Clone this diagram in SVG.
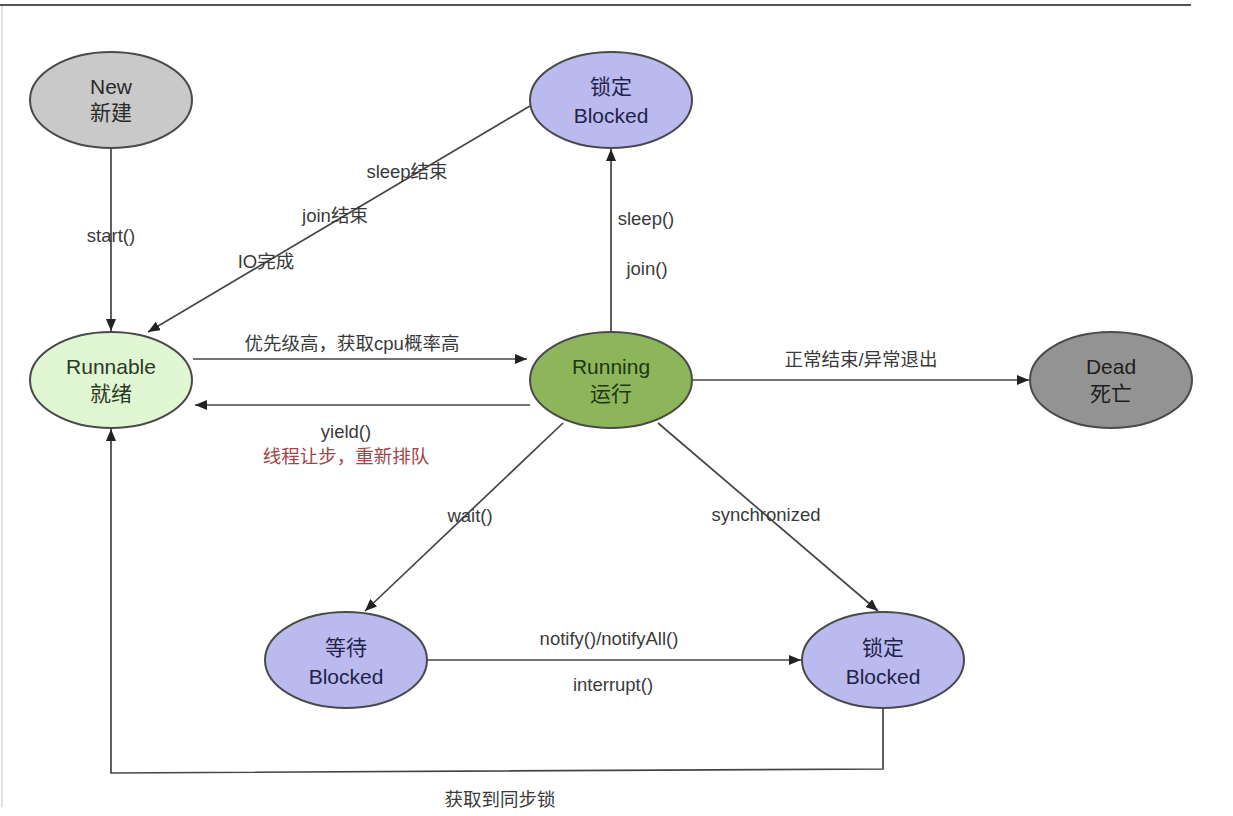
<svg xmlns="http://www.w3.org/2000/svg" width="1233" height="816" viewBox="0 0 1233 816">
<defs>
<marker id="arr" viewBox="0 0 12 10" refX="12" refY="5" markerWidth="12" markerHeight="10" markerUnits="userSpaceOnUse" orient="auto">
<path d="M0,0 L12,5 L0,10 z" fill="#222"/>
</marker>
</defs>
<style>
.node{stroke:#4a4a4a;stroke-width:2}
.nt{font-family:"Liberation Sans","Noto Sans CJK SC",sans-serif;font-size:21px;text-anchor:middle}
.lbl{font-family:"Liberation Sans","Noto Sans CJK SC",sans-serif;font-size:18.5px;text-anchor:middle;fill:#3a3a3a}
.red{fill:#a0454a}
.edge{fill:none;stroke:#454545;stroke-width:1.7}
.arrow{marker-end:url(#arr)}
</style>
<rect x="0" y="0" width="1233" height="816" fill="#ffffff"/>
<line x1="0" y1="5" x2="1191" y2="5" stroke="#555" stroke-width="2"/>
<line x1="2" y1="6" x2="2" y2="807" stroke="#d8d8d8" stroke-width="1.5"/>

<g id="connectors">
<line class="edge arrow" x1="111" y1="148" x2="111" y2="331"/>
<line class="edge arrow" x1="530" y1="106" x2="148" y2="332"/>
<line class="edge arrow" x1="193" y1="359" x2="527" y2="359"/>
<line class="edge arrow" x1="530" y1="405" x2="195" y2="405"/>
<line class="edge arrow" x1="611" y1="332" x2="611" y2="149"/>
<line class="edge arrow" x1="692" y1="380" x2="1029" y2="380"/>
<line class="edge arrow" x1="563" y1="423" x2="365" y2="611"/>
<line class="edge arrow" x1="658" y1="423" x2="878" y2="611"/>
<line class="edge arrow" x1="428" y1="660" x2="801" y2="660"/>
<path class="edge arrow" d="M883,708 L883,769 L111,773 L111,429"/>
</g>

<g id="node-new">
<ellipse class="node" cx="111" cy="100" rx="81" ry="48" fill="#c9c9c9"/>
<text class="nt" x="111" y="94" fill="#2a2a2a">New</text>
<text class="nt" x="111" y="120" fill="#2a2a2a">新建</text>
</g>
<g id="node-blocked-top">
<ellipse class="node" cx="611" cy="100" rx="81" ry="48" fill="#babaee"/>
<text class="nt" x="611" y="94" fill="#23234a">锁定</text>
<text class="nt" x="611" y="123" fill="#23234a">Blocked</text>
</g>
<g id="node-runnable">
<ellipse class="node" cx="111" cy="380" rx="81" ry="48" fill="#e1f6d2"/>
<text class="nt" x="111" y="374" fill="#2a3a28">Runnable</text>
<text class="nt" x="111" y="401" fill="#2a3a28">就绪</text>
</g>
<g id="node-running">
<ellipse class="node" cx="611" cy="380" rx="81" ry="48" fill="#8db65a"/>
<text class="nt" x="611" y="374" fill="#1f3612">Running</text>
<text class="nt" x="611" y="401" fill="#1f3612">运行</text>
</g>
<g id="node-dead">
<ellipse class="node" cx="1111" cy="380" rx="81" ry="48" fill="#939393"/>
<text class="nt" x="1111" y="374" fill="#1e1e1e">Dead</text>
<text class="nt" x="1111" y="401" fill="#1e1e1e">死亡</text>
</g>
<g id="node-waiting">
<ellipse class="node" cx="346" cy="660" rx="81" ry="48" fill="#babaee"/>
<text class="nt" x="346" y="655" fill="#23234a">等待</text>
<text class="nt" x="346" y="684" fill="#23234a">Blocked</text>
</g>
<g id="node-blocked-bottom">
<ellipse class="node" cx="883" cy="660" rx="81" ry="48" fill="#babaee"/>
<text class="nt" x="883" y="655" fill="#23234a">锁定</text>
<text class="nt" x="883" y="684" fill="#23234a">Blocked</text>
</g>

<g id="labels">
<text class="lbl" x="111" y="242">start()</text>
<text class="lbl" x="407" y="178">sleep结束</text>
<text class="lbl" x="335" y="222">join结束</text>
<text class="lbl" x="266" y="268">IO完成</text>
<text class="lbl" x="352" y="350">优先级高，获取cpu概率高</text>
<text class="lbl" x="346" y="438">yield()</text>
<text class="lbl red" x="346" y="463">线程让步，重新排队</text>
<text class="lbl" x="646" y="225">sleep()</text>
<text class="lbl" x="647" y="275">join()</text>
<text class="lbl" x="861" y="366">正常结束/异常退出</text>
<text class="lbl" x="470" y="522">wait()</text>
<text class="lbl" x="766" y="521">synchronized</text>
<text class="lbl" x="609" y="645">notify()/notifyAll()</text>
<text class="lbl" x="613" y="691">interrupt()</text>
<text class="lbl" x="500" y="806">获取到同步锁</text>
</g>
</svg>
